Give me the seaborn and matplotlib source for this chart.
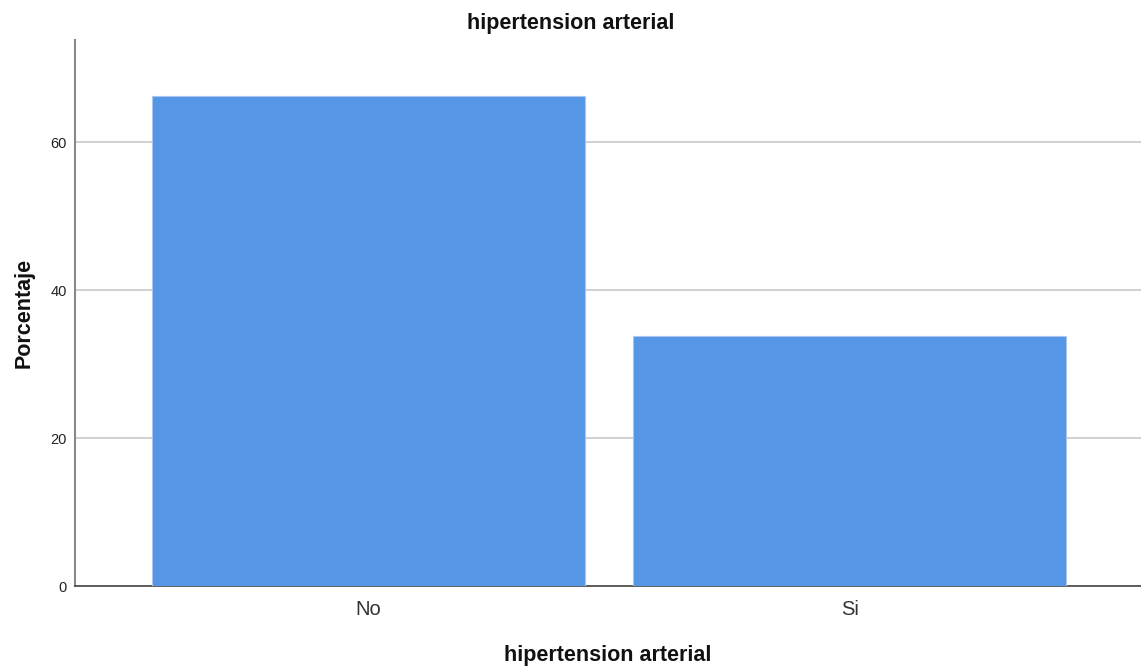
import matplotlib
matplotlib.use("Agg")
import matplotlib.pyplot as plt
import seaborn as sns
import pandas as pd

# datos
categorias = ["No", "Si"]
porcentajes = [66.2, 33.8]

df = pd.DataFrame({"hipertension arterial": categorias, "Porcentaje": porcentajes})

sns.set_style("white")
plt.rcParams['font.family'] = ['Liberation Sans', 'DejaVu Sans']

fig = plt.figure(figsize=(11.41, 6.69), dpi=100)
ax = fig.add_axes([0.0657, 0.124, 0.9343, 0.816])

sns.barplot(data=df, x="hipertension arterial", y="Porcentaje", color="#5596e6",
            saturation=1, width=0.9, edgecolor="#a9c8f0", linewidth=0.8, ax=ax, zorder=3)

ax.set_ylim(0, 73.8)
ax.set_xlim(-0.609, 1.605)
ax.set_yticks([0, 20, 40, 60])
ax.yaxis.grid(True, color="#c8c8c8", linewidth=1.2, zorder=0)
ax.set_axisbelow(True)
ax.tick_params(axis="y", length=0, labelsize=10.5, colors="#222222", pad=6)
ax.tick_params(axis="x", length=0, labelsize=14.5, colors="#333333", pad=10)

for s in ["top", "right"]:
    ax.spines[s].set_visible(False)
ax.spines["left"].set_color("#888888")
ax.spines["left"].set_linewidth(1.5)
ax.spines["bottom"].set_color("#444444")
ax.spines["bottom"].set_linewidth(1.2)

# titulo centrado en la figura
fig.text(0.5, 1 - 24 / 669, "hipertension arterial", fontsize=15.5, fontweight="bold",
         color="#111111", ha="center", va="center")
ax.set_xlabel("hipertension arterial", fontsize=15.5, fontweight="bold", color="#111111", labelpad=19)
ax.set_ylabel("Porcentaje", fontsize=15.5, fontweight="bold", color="#111111", labelpad=11)

fig.savefig("out.png", dpi=100)
